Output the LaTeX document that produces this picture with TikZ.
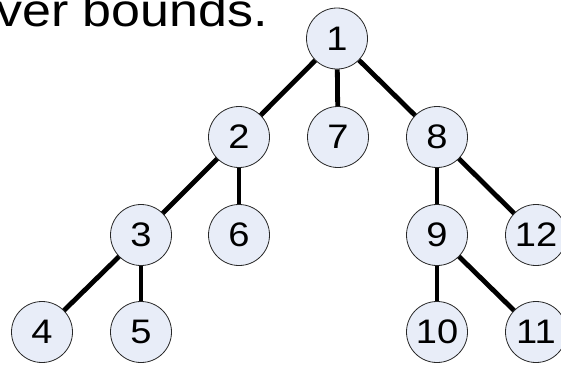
\documentclass[tikz,border=0pt]{standalone}
\usepackage{fontspec}
\setmainfont{Liberation Sans}
\usepackage{graphicx}
\definecolor{nodefill}{RGB}{232,237,248}
\definecolor{nodeline}{RGB}{40,40,40}
\begin{document}
\begin{tikzpicture}[x=1pt,y=-1pt,
  tnode/.style={circle,draw=nodeline,line width=0.8pt,fill=nodefill,minimum size=61pt,inner sep=0pt,
    font=\fontsize{34}{34}\selectfont},
  edge/.style={line width=4.8pt,black}]
\useasboundingbox (0,0) rectangle (561,365);
\clip (0,0) rectangle (561,365);
\node[anchor=base east,inner sep=0pt] (title) at (268,26) {\scalebox{1.13}[1]{\fontsize{46}{46}\selectfont ver bounds.}};
\newcommand\dg[1]{\scalebox{1.12}[1]{#1}}
\node[tnode] (n1) at (337,38.5) {\dg{1}};
\node[tnode] (n2) at (239,137) {\dg{2}};
\node[tnode] (n7) at (338,137) {\dg{7}};
\node[tnode] (n8) at (437,137) {\dg{8}};
\node[tnode] (n3) at (141,235) {\dg{3}};
\node[tnode] (n6) at (239,235) {\dg{6}};
\node[tnode] (n9) at (437,235) {\dg{9}};
\node[tnode] (n12) at (536,235) {\dg{12}};
\node[tnode] (n4) at (42,332) {\dg{4}};
\node[tnode] (n5) at (141,332) {\dg{5}};
\node[tnode] (n10) at (437,332) {\dg{10}};
\node[tnode] (n11) at (536,332) {\dg{11}};
\draw[edge] (n1) -- (n2);
\draw[edge] (n1) -- (n7);
\draw[edge] (n1) -- (n8);
\draw[edge] (n2) -- (n3);
\draw[edge] (n2) -- (n6);
\draw[edge] (n3) -- (n4);
\draw[edge] (n3) -- (n5);
\draw[edge] (n8) -- (n9);
\draw[edge] (n8) -- (n12);
\draw[edge] (n9) -- (n10);
\draw[edge] (n9) -- (n11);
\end{tikzpicture}
\end{document}
